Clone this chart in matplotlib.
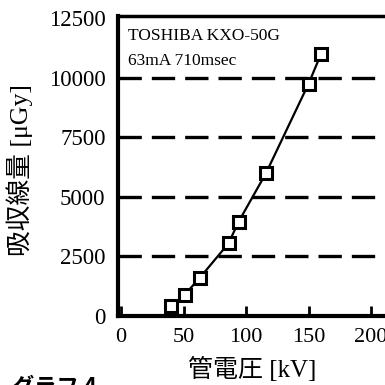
import matplotlib
matplotlib.use("Agg")
import matplotlib.pyplot as plt

kv = [40, 51, 63, 86, 94, 116, 150, 160]
dose = [400, 900, 1600, 3050, 3950, 6000, 9750, 11000]
x_ticks = [0, 50, 100, 150, 200]
y_ticks = [0, 2500, 5000, 7500, 10000, 12500]
grid_levels = [2500, 5000, 7500, 10000]

SERIF = ['Liberation Serif', 'Noto Sans CJK JP', 'DejaVu Sans']
CJK = ['Liberation Serif', 'Noto Sans CJK JP', 'DejaVu Sans']

fig = plt.figure(figsize=(3.85, 3.85), dpi=100)
ax = fig.add_axes([118/385, 1-316/385, (385-118)/385, 300/385])
ax.set_xlim(-2.4, 211.2)
ax.set_ylim(0, 12600)

for g in grid_levels:
    ax.axhline(g, color='black', lw=2.4, linestyle=(0, (7, 3)), zorder=1)

ax.plot(kv, dose, color='black', lw=1.6, marker='s', markersize=8,
        markerfacecolor='white', markeredgecolor='black', markeredgewidth=2.2, zorder=3)

ax.spines['right'].set_visible(False)
for s in ['left', 'bottom']:
    ax.spines[s].set_linewidth(3)
ax.spines['top'].set_linewidth(2.5)

ax.set_xticks(x_ticks)
ax.set_yticks(y_ticks)
ax.set_xticklabels([str(v) for v in x_ticks], family=SERIF, fontsize=16)
ax.set_yticklabels([str(v) for v in y_ticks], family=SERIF, fontsize=16.5)
ax.tick_params(axis='x', direction='in', length=7, width=2, pad=9)
ax.tick_params(axis='y', length=0, pad=9)

fig.text(128/385, 1-36/385, 'TOSHIBA KXO-50G', family=SERIF, fontsize=12.5, va='center', ha='left')
fig.text(128/385, 1-61/385, '63mA 710msec', family=SERIF, fontsize=12.5, va='center', ha='left')

fig.text(20/385, 1-170/385, '吸収線量 [μGy]', family=CJK, fontsize=18.5, rotation=90,
         va='center', ha='center')
fig.text(252/385, 1-369/385, '管電圧 [kV]', family=CJK, fontsize=18,
         va='center', ha='center')
fig.text(12/385, 1-376/385, 'グラフ 4', family=['Noto Sans CJK JP', 'DejaVu Sans'],
         fontsize=16, weight='bold', va='top', ha='left')

fig.savefig('out.png', dpi=100)
